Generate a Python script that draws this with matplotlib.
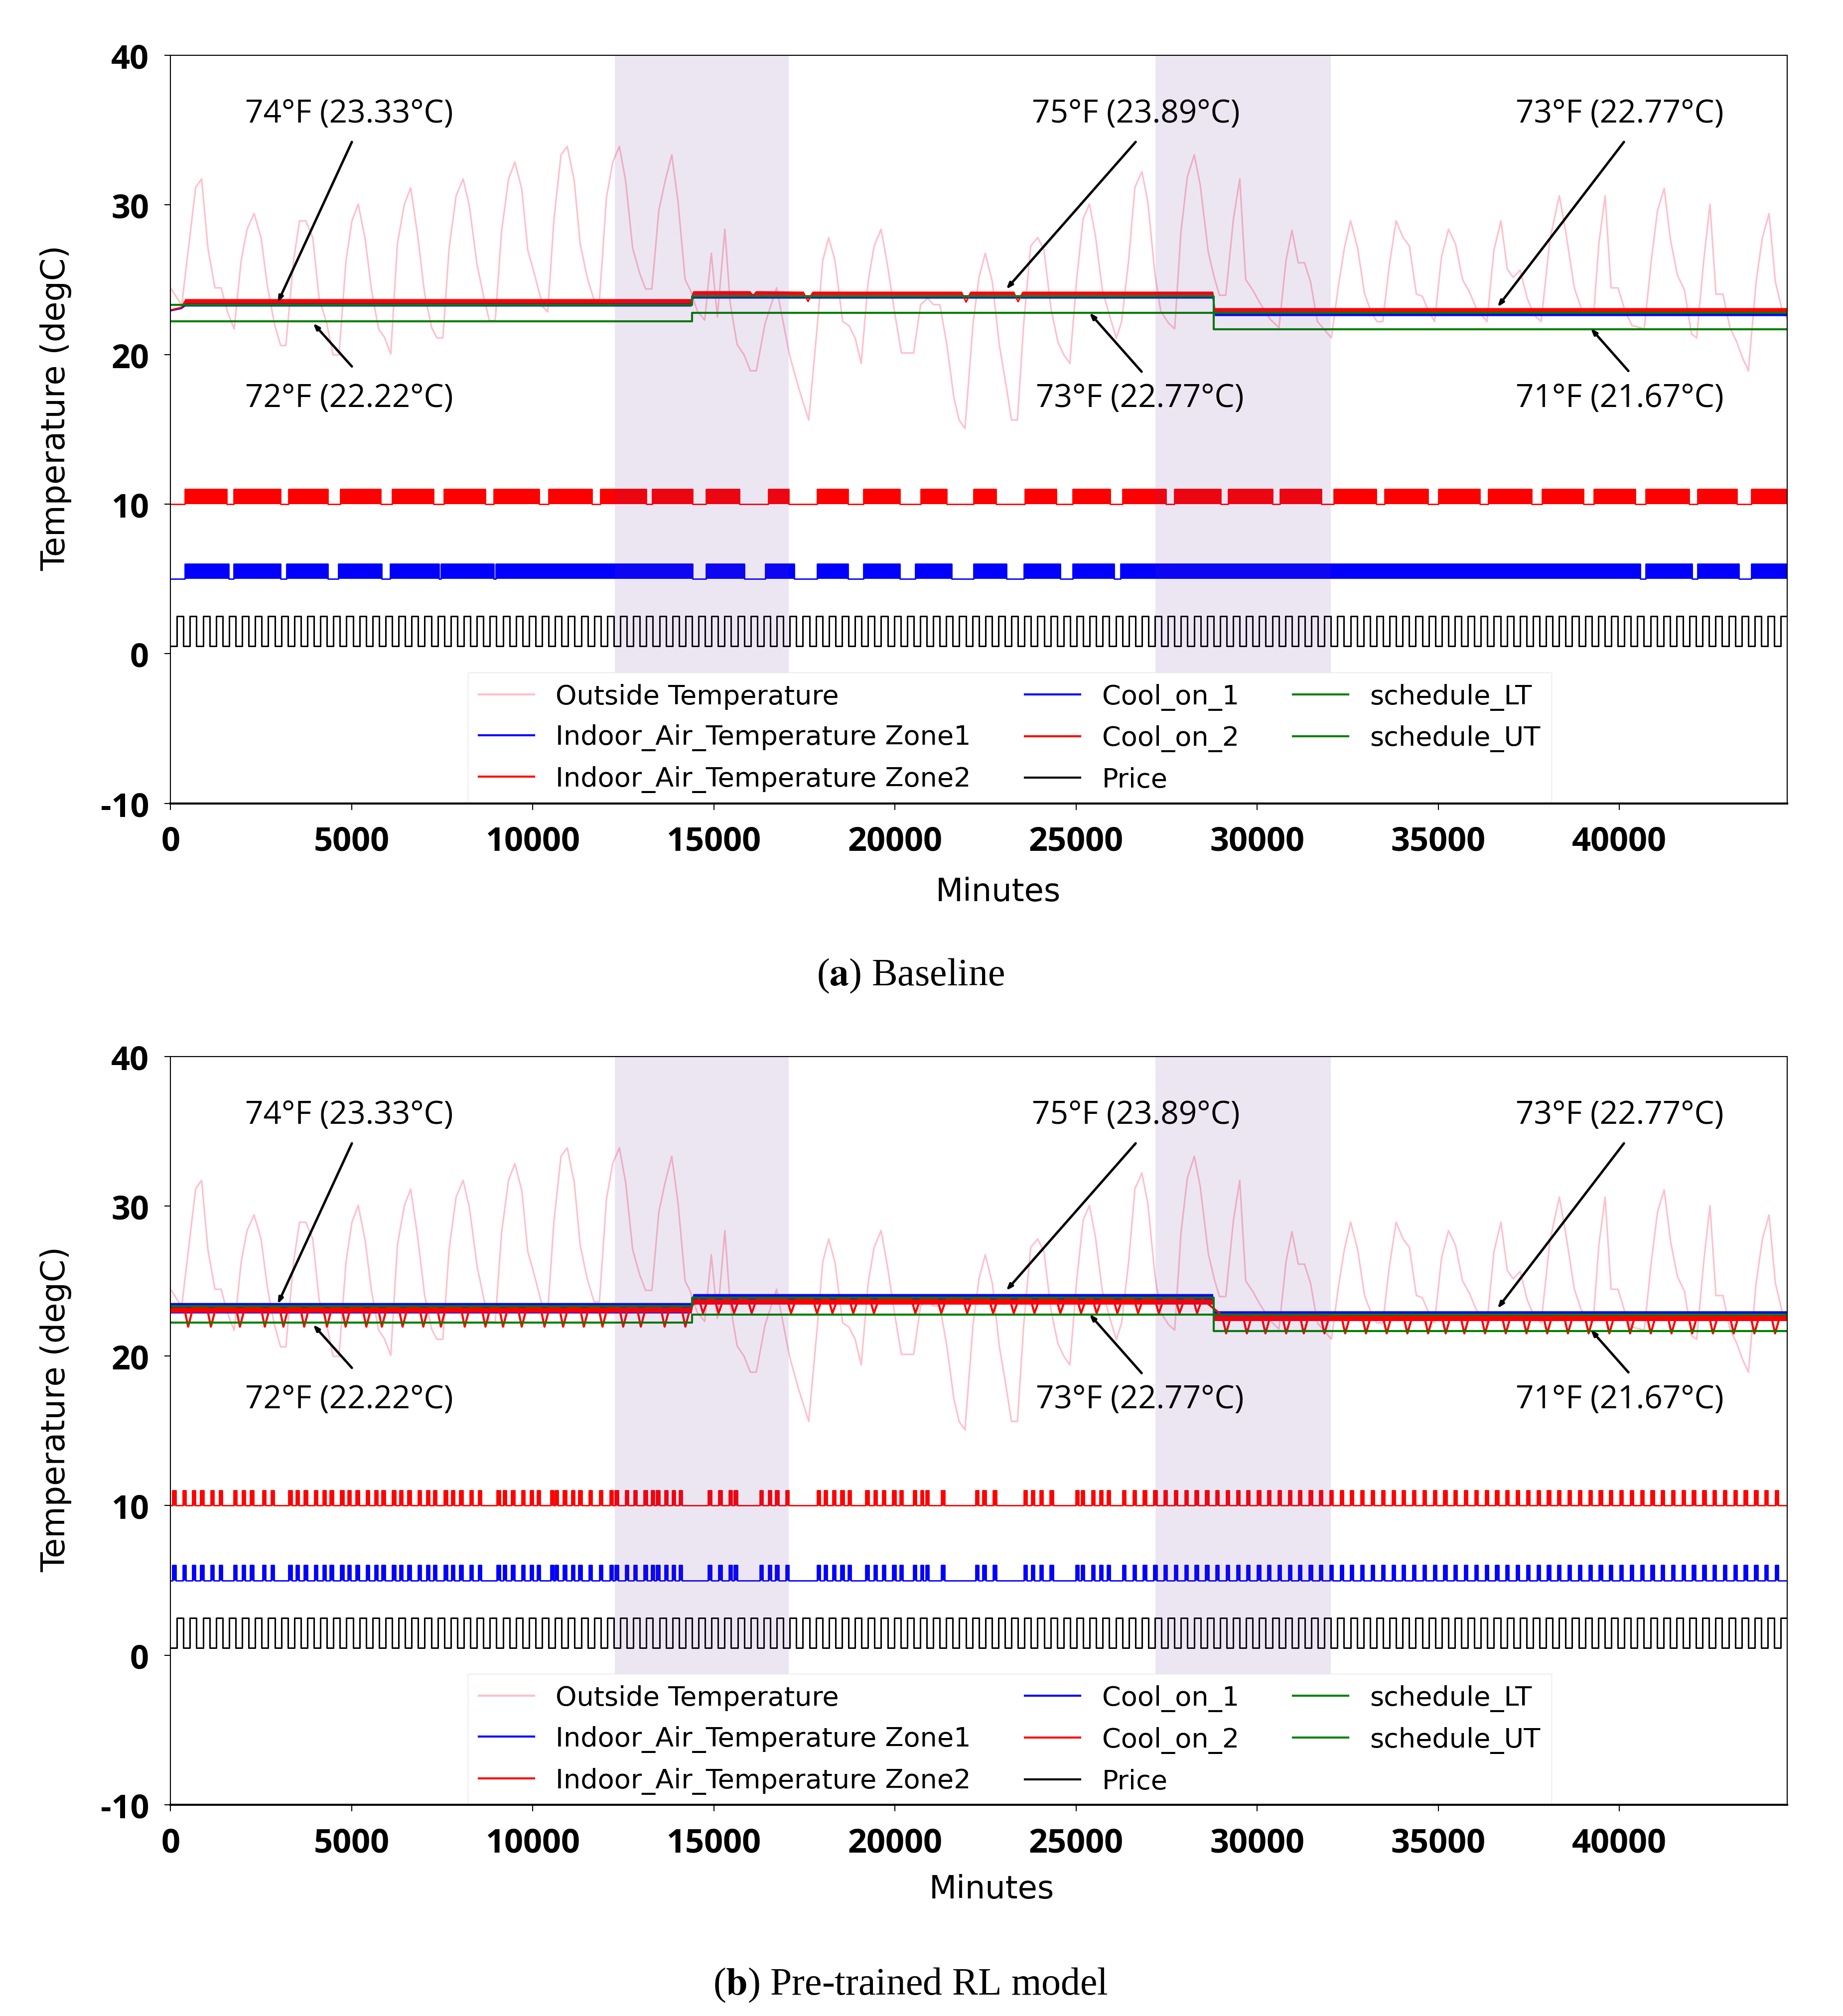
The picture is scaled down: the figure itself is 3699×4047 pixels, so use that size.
import numpy as np
import matplotlib.pyplot as plt

END = 44640

# outside temperature vertices (minute, degC), identical in both runs
out_min = [0, 310, 696, 860, 1034, 1227, 1401, 1565, 1758, 1951, 2115, 2308, 2501, 2675, 2868, 3041, 3186,
           3398, 3563, 3736, 3929, 4103, 4315, 4489, 4653, 4846, 5010, 5184, 5377, 5551, 5744, 5908, 6082,
           6265, 6458, 6632, 6825, 7018, 7211, 7356, 7520, 7693, 7886, 8079, 8253, 8465, 8658, 8803, 8967,
           9141, 9334, 9508, 9701, 9865, 10058, 10280, 10415, 10589, 10782, 10955, 11148, 11312, 11505, 11698,
           11843, 12036, 12210, 12394, 12567, 12760, 12953, 13117, 13291, 13484, 13657, 13841, 14014, 14208,
           14352, 14546, 14750, 14932, 15100, 15306, 15451, 15644, 15837, 16010, 16174, 16416, 16734, 17091,
           17332, 17622, 17863, 18008, 18172, 18346, 18558, 18732, 18906, 19070, 19263, 19427, 19620, 19794,
           19987, 20180, 20517, 20710, 20903, 21067, 21241, 21434, 21627, 21772, 21936, 22158, 22322, 22496,
           22689, 22882, 23075, 23220, 23384, 23557, 23750, 23943, 24117, 24310, 24503, 24667, 24831, 25024,
           25198, 25372, 25536, 25729, 25922, 26115, 26260, 26453, 26627, 26820, 26984, 27177, 27340, 27562,
           27726, 27900, 28074, 28267, 28431, 28653, 28817, 28962, 29136, 29348, 29522, 29686, 29879, 30074,
           30364, 30605, 30798, 30962, 31136, 31309, 31474, 31667, 31860, 32052, 32245, 32410, 32583, 32776,
           32969, 33143, 33307, 33471, 33645, 33838, 34031, 34205, 34398, 34562, 34707, 34900, 35093, 35286,
           35479, 35672, 35865, 36058, 36347, 36540, 36733, 36907, 37071, 37264, 37457, 37650, 37843, 38084,
           38345, 38519, 38760, 38953, 39098, 39291, 39436, 39609, 39773, 39966, 40159, 40352, 40690, 40883,
           41057, 41240, 41414, 41607, 41800, 41993, 42138, 42331, 42504, 42669, 42862, 43055, 43248, 43392,
           43566, 43778, 43952, 44135, 44309, 44502, 44640]
out_temp = [24.45, 23.3, 31.17, 31.73, 27.1, 24.45, 24.45, 22.9, 21.7, 26.27, 28.37, 29.42, 27.81, 24.59, 22.07,
            20.6, 20.6, 26.27, 28.93, 28.93, 27.81, 23.75, 22.07, 19.97, 19.97, 26.27, 28.93, 30.05, 27.67, 24.3,
            21.72, 21.15, 20.03, 27.39, 30.05, 31.14, 27.95, 24.03, 21.79, 21.11, 21.11, 27.11, 30.61, 31.73,
            29.91, 25.99, 23.75, 22.27, 22.27, 28.23, 31.73, 32.85, 31.03, 26.97, 25.29, 23.19, 22.84, 29.07,
            33.34, 33.9, 31.59, 27.39, 25.15, 23.61, 23.61, 30.47, 32.85, 33.9, 31.59, 27.11, 25.43, 24.38, 24.38,
            29.63, 31.59, 33.34, 30.19, 25.01, 24.31, 22.9, 22.3, 26.76, 22.5, 28.37, 23.47, 20.67, 19.97, 18.91,
            18.91, 22.07, 24.45, 19.97, 17.86, 15.62, 22.07, 26.27, 27.81, 26.27, 22.2, 21.93, 21.09, 19.4, 24.87,
            27.25, 28.37, 25.99, 22.9, 20.1, 20.1, 23.33, 23.75, 23.33, 23.33, 20.67, 17.16, 15.62, 15.06, 22.07,
            25.15, 26.76, 24.87, 20.67, 17.86, 15.62, 15.62, 22.07, 27.25, 27.81, 26.97, 23.05, 20.81, 19.97,
            19.4, 25.15, 29.07, 30.05, 27.95, 24.31, 22.63, 21.09, 22.2, 26.27, 31.17, 32.22, 30.19, 25.43, 22.9,
            22.07, 21.72, 28.23, 31.87, 33.34, 31.31, 26.83, 25.15, 23.96, 23.96, 29.07, 31.73, 25.01, 24.31,
            23.46, 22.35, 21.79, 26.27, 28.3, 26.13, 26.13, 24.87, 22.2, 21.65, 21.11, 24.59, 27.11, 28.93, 27.11,
            24.03, 22.9, 22.2, 22.2, 25.85, 28.93, 27.81, 27.25, 24.03, 23.89, 23.05, 22.2, 26.55, 28.37, 27.39,
            25.01, 24.17, 23.05, 22.2, 26.97, 28.93, 25.71, 25.15, 25.64, 23.75, 22.63, 22.2, 27.67, 30.61, 28.23,
            24.45, 23.05, 22.63, 22.63, 27.39, 30.61, 24.45, 24.45, 22.9, 21.93, 21.72, 26.27, 29.63, 31.1, 27.67,
            25.29, 24.31, 21.37, 21.11, 26.27, 30.05, 24.03, 24.03, 21.79, 20.81, 19.83, 18.91, 24.87, 27.81,
            29.42, 24.87, 22.9, 22.35]

# comfort schedule (step changes at day 10 and day 20)
sched_min = [0, 14400, 28800, END]
sched_lt = [22.22, 22.77, 21.67, 21.67]
sched_ut = [23.33, 23.89, 22.77, 22.77]

# price signal: one cycle of the repeating tariff (minutes, level)
price_cycle_min = [0, 180]
price_cycle_val = [0.5, 2.5]
price_cycle_len = 360

# shaded periods
shade_spans = [(12270, 17070), (27200, 32030)]

# ---- (a) baseline ----
zone2_a_min = [0, 300, 400, 14380, 14430, 16000, 16080, 16160, 17480, 17600, 17720, 21850, 21965, 22080,
               23290, 23400, 23520, 28780, 28830, END]
zone2_a_lo = [22.95, 23.1, 23.42, 23.42, 23.98, 23.98, 23.9, 23.98, 23.98, 23.5, 23.98, 23.98, 23.45, 23.98,
              23.98, 23.5, 23.98, 23.98, 22.86, 22.86]
zone2_a_hi = [23.0, 23.2, 23.72, 23.72, 24.25, 24.25, 24.02, 24.25, 24.22, 23.6, 24.22, 24.22, 23.55, 24.22,
              24.22, 23.55, 24.22, 24.22, 23.12, 23.12]
zone1_a_min = [0, 300, 400, 14380, 14430, 28780, 28830, END]
zone1_a_lo = [22.9, 23.05, 23.22, 23.22, 23.75, 23.75, 22.58, 22.58]
zone1_a_hi = [22.95, 23.12, 23.45, 23.45, 23.98, 23.98, 22.85, 22.85]

cool2_a_on = [(402, 1546), (1746, 3033), (3262, 4348), (4692, 5807), (6122, 7266), (7552, 8696),
              (8924, 10183), (10440, 11641), (11870, 13128), (13300, 14415), (14787, 15703), (16503, 17075),
              (17848, 18706), (19134, 20136), (20708, 21423), (22166, 22795), (23596, 24454), (24912, 25941),
              (26284, 27486), (27715, 29002), (29202, 30432), (30632, 31776), (32119, 33292), (33521, 34722),
              (35008, 36152), (36380, 37582), (37868, 39011), (39297, 40441), (40727, 41929), (42158, 43245),
              (43645, 44640)]
cool1_a_on = [(402, 1603), (1746, 3033), (3205, 4348), (4635, 5836), (6064, 7409), (7466, 8924),
              (8982, 14415), (14787, 15846), (16417, 17218), (17848, 18706), (19134, 20136), (20565, 21566),
              (22166, 23081), (23568, 24568), (24912, 26056), (26227, 40584), (40727, 42014), (42158, 43302),
              (43645, 44640)]

# ---- (b) pre-trained RL model ----
zone2_b_dips = [487, 1116, 1917, 2604, 3118, 3691, 4320, 4835, 5407, 5836, 6408, 6980, 7466, 8124, 8696,
                9182, 9697, 10326, 10841, 11413, 11927, 12499, 12986, 13643, 14215,
                14702, 15131, 15560, 16046, 17133, 17848, 18277, 18849, 19421, 20565, 21280, 21995, 22710,
                23282, 23854, 24568, 25140, 25570, 26142, 26714, 27286, 27858, 28344,
                29145, 29717, 30231, 30803, 31289, 31861, 32433, 33006, 33578, 34150, 34722, 35208, 35722,
                36294, 36866, 37438, 38010, 38582, 39154, 39726, 40298, 40870, 41442, 42014, 42586, 43158,
                43730, 44302]
zone2_b_top = [23.25, 23.8, 22.7]
zone2_b_bottom = [21.95, 22.85, 21.5]
zone1_b_min = [0, 14380, 14430, 28780, 28830, END]
zone1_b_lo = [22.85, 22.85, 23.45, 23.45, 22.35, 22.35]
zone1_b_hi = [23.55, 23.55, 24.15, 24.15, 23.0, 23.0]

cool2_b_on = [(58, 150), (344, 430), (602, 690), (830, 920), (1116, 1200), (1345, 1430), (1746, 1830),
              (1975, 2060), (2203, 2290), (2547, 2630), (2775, 2860), (3262, 3350), (3461, 3550),
              (3691, 3780), (3977, 4060), (4205, 4290), (4406, 4490), (4692, 4780), (4892, 4980),
              (5121, 5210), (5407, 5490), (5636, 5720), (5836, 5920), (6122, 6210), (6322, 6410),
              (6551, 6640), (6837, 6920), (7066, 7150), (7266, 7350), (7552, 7640), (7752, 7840),
              (7981, 8070), (8267, 8350), (8495, 8580), (9010, 9100), (9182, 9270), (9411, 9500),
              (9697, 9780), (9926, 10010), (10126, 10210), (10497, 10580), (10612, 10700), (10841, 10930),
              (11070, 11160), (11270, 11360), (11556, 11640), (11842, 11930), (12128, 12210), (12271, 12360),
              (12557, 12640), (12786, 12870), (13071, 13160), (13272, 13360), (13415, 13500), (13643, 13730),
              (13844, 13930), (14044, 14130), (14845, 14930), (15131, 15220), (15417, 15500), (15560, 15650),
              (16275, 16360), (16503, 16590), (16703, 16790), (16989, 17070), (17848, 17930), (18048, 18130),
              (18277, 18360), (18506, 18590), (18706, 18790), (19192, 19280), (19421, 19510), (19650, 19740),
              (19936, 20020), (20136, 20220), (20508, 20590), (20708, 20790), (20851, 20940), (21280, 21370),
              (22223, 22310), (22424, 22510), (22710, 22800), (23568, 23650), (23768, 23850), (23997, 24080),
              (24283, 24370), (24998, 25080), (25140, 25230), (25426, 25510), (25655, 25740), (25855, 25940),
              (26284, 26370), (26570, 26660), (26856, 26940), (27142, 27230), (27428, 27510), (27715, 27800),
              (28001, 28090), (28287, 28370), (28573, 28660), (28859, 28940), (29145, 29230), (29431, 29520),
              (29717, 29800), (30003, 30090), (30289, 30370), (30575, 30660), (30861, 30950), (31147, 31230),
              (31433, 31520), (31719, 31800), (32005, 32090), (32291, 32380), (32577, 32660), (32863, 32950),
              (33149, 33230), (33435, 33520), (33721, 33810), (34007, 34090), (34293, 34380), (34579, 34660),
              (34865, 34950), (35151, 35240), (35437, 35520), (35723, 35810), (36009, 36090), (36295, 36380),
              (36581, 36670), (36867, 36950), (37153, 37240), (37439, 37520), (37725, 37810), (38011, 38100),
              (38297, 38380), (38583, 38670), (38869, 38950), (39155, 39240), (39441, 39530), (39727, 39810),
              (40013, 40100), (40299, 40380), (40585, 40670), (40871, 40960), (41157, 41240), (41443, 41530),
              (41729, 41810), (42015, 42100), (42301, 42390), (42587, 42670), (42873, 42960), (43159, 43240),
              (43445, 43530), (43731, 43820), (44017, 44100), (44303, 44390)]
cool1_b_on = cool2_b_on

annots = [("74°F (23.33°C)", (2958, 23.45), (5008, 34.2), (4939, 36.1)),
          ("72°F (22.22°C)", (3934, 22.1), (5008, 19.2), (4939, 17.1)),
          ("75°F (23.89°C)", (23070, 24.35), (26647, 34.2), (26647, 36.1)),
          ("73°F (22.77°C)", (25368, 22.8), (26812, 18.85), (26757, 17.1)),
          ("73°F (22.77°C)", (36635, 23.16), (40128, 34.2), (40005, 36.1)),
          ("71°F (21.67°C)", (39207, 21.76), (40252, 18.9), (40005, 17.1))]

ANN_FONT = "Open Sans"
TICK_FONT = "Open Sans"


def on_series(blocks, base):
    t, v = [0], [base]
    for s, e in blocks:
        t += [s, e]
        v += [base + 1, base]
    t.append(END)
    v.append(base)
    return np.array(t), np.array(v)


def price_series():
    t, v = [], []
    start = 0
    while start < END:
        for m, p in zip(price_cycle_min, price_cycle_val):
            t.append(start + m)
            v.append(p)
        start += price_cycle_len
    t.append(END)
    v.append(v[-1])
    return np.array(t), np.array(v)


def dips_series(dips, tops, bottoms):
    t, v = [], []
    for d in dips:
        k = 0 if d < 14400 else (1 if d < 28800 else 2)
        t += [d - 110, d, d + 140]
        v += [tops[k], bottoms[k], tops[k]]
    return np.array(t), np.array(v)


def draw_panel(ax, zone2, zone1, cool2_on, cool1_on, xlabel_pos):
    ax.plot(out_min, out_temp, color="pink", lw=2.3, label="Outside Temperature", zorder=2)

    # Zone1 (blue) and Zone2 (red)
    _, t, lo, hi = zone1
    ax.fill_between(t, lo, hi, color="blue", lw=0, zorder=2.1)
    ax.plot(t, (np.array(lo) + np.array(hi)) / 2, color="blue", lw=2, label="Indoor_Air_Temperature Zone1",
            zorder=2.1)
    if zone2[0] == "band":
        _, t, lo, hi = zone2
        ax.fill_between(t, lo, hi, color="red", lw=0, zorder=2.2)
        ax.plot(t, (np.array(lo) + np.array(hi)) / 2, color="red", lw=2, label="Indoor_Air_Temperature Zone2",
                zorder=2.2)
    else:
        _, dips, tops, bottoms = zone2
        bt = [0, 14380, 14430, 28780, 28830, END]
        top_steps = [tops[0], tops[0], tops[1], tops[1], tops[2], tops[2]]
        ax.fill_between(bt, np.array(top_steps) - 0.35, top_steps, color="red", lw=0, zorder=2.2)
        t, v = dips_series(dips, tops, bottoms)
        ax.plot(t, v, color="red", lw=3, label="Indoor_Air_Temperature Zone2", zorder=2.2)

    t, v = on_series(cool1_on, 5)
    ax.fill_between(t, 5, v, step="post", color="blue", lw=0, zorder=2)
    ax.plot(t, v, drawstyle="steps-post", color="blue", lw=2, label="Cool_on_1", zorder=2)
    t, v = on_series(cool2_on, 10)
    ax.fill_between(t, 10, v, step="post", color="red", lw=0, zorder=2)
    ax.plot(t, v, drawstyle="steps-post", color="red", lw=2, label="Cool_on_2", zorder=2)

    t, v = price_series()
    ax.plot(t, v, drawstyle="steps-post", color="black", lw=2.2, label="Price", zorder=2)

    ax.plot(sched_min, sched_lt, drawstyle="steps-post", color="green", lw=3, label="schedule_LT", zorder=2.5)
    ax.plot(sched_min, sched_ut, drawstyle="steps-post", color="green", lw=3, label="schedule_UT", zorder=2.5)

    for s, e in shade_spans:
        ax.axvspan(s, e, color="rebeccapurple", alpha=0.12, lw=0, zorder=3)

    for label, head, tail, txt in annots:
        ax.annotate("", xy=head, xytext=tail,
                    arrowprops=dict(arrowstyle="-|>,head_length=0.7,head_width=0.25", lw=3.5, color="black",
                                    shrinkA=0, shrinkB=0),
                    zorder=6)
        ax.text(txt[0], txt[1], label, ha="center", va="center", fontsize=46, family=ANN_FONT, zorder=6)

    ax.set_xlim(0, END)
    ax.set_ylim(-10, 40)
    ax.set_yticks([-10, 0, 10, 20, 30, 40])
    ax.set_xticks(range(0, 44640, 5000))
    for lab in ax.get_xticklabels() + ax.get_yticklabels():
        lab.set_family(TICK_FONT)
        lab.set_fontweight("bold")
        lab.set_fontsize(48)
    ax.tick_params(axis="both", length=9, width=1.5, pad=22)
    for side in ["left", "right", "top", "bottom"]:
        ax.spines[side].set_linewidth(1.5)
        ax.spines[side].set_zorder(7)
    ax.spines["bottom"].set_linewidth(3)
    ax.set_xlabel("Minutes", fontsize=46, family="DejaVu Sans")
    ax.xaxis.set_label_coords(*xlabel_pos)
    ax.set_ylabel("Temperature (degC)", fontsize=47, family="DejaVu Sans")
    ax.yaxis.set_label_coords(-0.061, 0.529)

    leg = ax.legend(ncol=3, loc="lower center", bbox_to_anchor=(0.519, 0.0), borderaxespad=0,
                    prop={"family": "DejaVu Sans", "size": 39}, handlelength=2.05, handletextpad=0.8,
                    columnspacing=2.0, labelspacing=0.55, framealpha=1, fancybox=False, edgecolor="#e6e6e6")
    leg.set_zorder(5)
    for h in leg.get_lines():
        h.set_linewidth(3)


plt.rcParams["mathtext.fontset"] = "stix"
plt.rcParams["axes.unicode_minus"] = False
fig = plt.figure(figsize=(36.99, 40.48), dpi=100)
ax_a = fig.add_axes([0.0925, 0.6013, 0.8773, 0.3711])
ax_b = fig.add_axes([0.0925, 0.1047, 0.8773, 0.3711])

draw_panel(ax_a, ("band", zone2_a_min, zone2_a_lo, zone2_a_hi), ("band", zone1_a_min, zone1_a_lo, zone1_a_hi),
           cool2_a_on, cool1_a_on, (0.512, -0.097))
draw_panel(ax_b, ("dips", zone2_b_dips, zone2_b_top, zone2_b_bottom), ("band", zone1_b_min, zone1_b_lo, zone1_b_hi),
           cool2_b_on, cool1_b_on, (0.508, -0.092))

fig.text(0.494, 0.516, r"($\mathbf{a}$) Baseline", ha="center", va="center", fontsize=56, family="Liberation Serif")
fig.text(0.494, 0.0155, r"($\mathbf{b}$) Pre-trained RL model", ha="center", va="center", fontsize=56,
         family="Liberation Serif")

fig.savefig("out.png", dpi=100)
